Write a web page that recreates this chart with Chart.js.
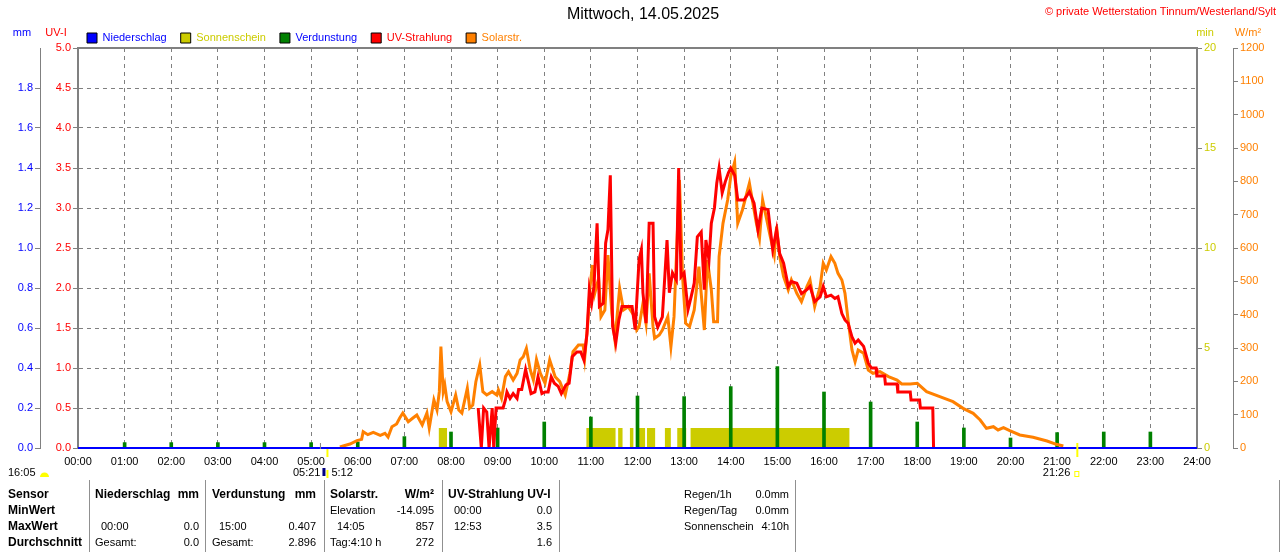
<!DOCTYPE html>
<html lang="de">
<head>
<meta charset="utf-8">
<title>Mittwoch, 14.05.2025</title>
<script src="https://cdn.jsdelivr.net/npm/chart.js@4.4.1/dist/chart.umd.min.js"></script>
<style>
  body { margin: 0; background: #fff; font-family: "Liberation Sans", Arial, sans-serif; }
  #wrap { position: relative; width: 1280px; height: 552px; overflow: hidden; }
  #chart { position: absolute; left: 0; top: 0; }
  .t { position: absolute; font-size: 11px; line-height: 14px; white-space: nowrap; color: #000; }
  .b { font-weight: bold; font-size: 12px; }
  .sep { position: absolute; top: 480px; height: 72px; width: 1px; background: #909090; }
</style>
</head>
<body>
<div id="wrap">
  <canvas id="chart" width="1280" height="552"></canvas>

  <div class="t b" style="left:8px;top:487px">Sensor</div>
  <div class="t b" style="left:8px;top:503px">MinWert</div>
  <div class="t b" style="left:8px;top:519px">MaxWert</div>
  <div class="t b" style="left:8px;top:535px">Durchschnitt</div>

  <div class="t b" style="left:95px;top:487px">Niederschlag</div>
  <div class="t b" style="right:1081px;top:487px">mm</div>
  <div class="t" style="left:101px;top:519px">00:00</div>
  <div class="t" style="right:1081px;top:519px">0.0</div>
  <div class="t" style="left:95px;top:535px">Gesamt:</div>
  <div class="t" style="right:1081px;top:535px">0.0</div>

  <div class="t b" style="left:212px;top:487px">Verdunstung</div>
  <div class="t b" style="right:964px;top:487px">mm</div>
  <div class="t" style="left:219px;top:519px">15:00</div>
  <div class="t" style="right:964px;top:519px">0.407</div>
  <div class="t" style="left:212px;top:535px">Gesamt:</div>
  <div class="t" style="right:964px;top:535px">2.896</div>

  <div class="t b" style="left:330px;top:487px">Solarstr.</div>
  <div class="t b" style="right:846px;top:487px">W/m²</div>
  <div class="t" style="left:330px;top:503px">Elevation</div>
  <div class="t" style="right:846px;top:503px">-14.095</div>
  <div class="t" style="left:337px;top:519px">14:05</div>
  <div class="t" style="right:846px;top:519px">857</div>
  <div class="t" style="left:330px;top:535px">Tag:4:10 h</div>
  <div class="t" style="right:846px;top:535px">272</div>

  <div class="t b" style="left:448px;top:487px">UV-Strahlung UV-I</div>
  <div class="t" style="left:454px;top:503px">00:00</div>
  <div class="t" style="right:728px;top:503px">0.0</div>
  <div class="t" style="left:454px;top:519px">12:53</div>
  <div class="t" style="right:728px;top:519px">3.5</div>
  <div class="t" style="right:728px;top:535px">1.6</div>

  <div class="t" style="left:684px;top:487px">Regen/1h</div>
  <div class="t" style="right:491px;top:487px">0.0mm</div>
  <div class="t" style="left:684px;top:503px">Regen/Tag</div>
  <div class="t" style="right:491px;top:503px">0.0mm</div>
  <div class="t" style="left:684px;top:519px">Sonnenschein</div>
  <div class="t" style="right:491px;top:519px">4:10h</div>

  <div class="sep" style="left:89px"></div>
  <div class="sep" style="left:205px"></div>
  <div class="sep" style="left:324px"></div>
  <div class="sep" style="left:442px"></div>
  <div class="sep" style="left:559px"></div>
  <div class="sep" style="left:795px"></div>
  <div class="sep" style="left:1279px"></div>
</div>

<script>
// ---- data ----
const chartTitle = 'Mittwoch, 14.05.2025';
const stationText = '\u00a9 private Wetterstation Tinnum/Westerland/Sylt';

const rainTimes = ['00:00', '24:00'];
const rainValues = [0.0, 0.0];

// Verdunstung (mm) per hour
const evapTimes = ['01:00','02:00','03:00','04:00','05:00','06:00','07:00','08:00','09:00','10:00','11:00','12:00',
  '13:00','14:00','15:00','16:00','17:00','18:00','19:00','20:00','21:00','22:00','23:00'];
const evapValues = [0.027,0.027,0.027,0.027,0.027,0.03,0.057,0.08,0.10,0.13,0.155,0.26,
  0.257,0.307,0.407,0.28,0.23,0.13,0.10,0.05,0.077,0.08,0.08];

// Sonnenschein periods (1 min per minute of sun)
const sunStart = ['07:44','10:54','11:35','11:50','11:59','12:12','12:35','12:51','13:08'];
const sunEnd   = ['07:55','11:32','11:41','11:55','12:10','12:23','12:43','13:03','16:33'];
const sunMinutes = 1;

// Solarstrahlung W/m²
const solarTimes = ['05:37','05:50','05:59','06:05','06:07','06:13','06:20','06:29','06:35','06:39','06:44','06:50',
  '06:54','06:58','07:05','07:11','07:16','07:23','07:29','07:32','07:38','07:42','07:45','07:47','07:50','07:52',
  '07:55','08:00','08:06','08:10','08:14','08:21','08:24','08:28','08:32','08:37','08:41','08:46','08:53','08:59',
  '09:01','09:05','09:10','09:14','09:20','09:25','09:29','09:33','09:37','09:42','09:46','09:50','09:55','10:01',
  '10:07','10:14','10:20','10:27','10:33','10:37','10:44','10:50','10:52','10:56','10:59','11:02','11:05','11:10',
  '11:13','11:18','11:22','11:27','11:31','11:37','11:42','11:48','11:55','11:59','12:02','12:07','12:11','12:15',
  '12:20','12:22','12:28','12:32','12:39','12:43','12:47','12:54','12:58','13:02','13:07','13:13','13:19','13:26',
  '13:30','13:35','13:38','13:43','13:45','13:50','13:56','14:00','14:05','14:09','14:15','14:24','14:33','14:37',
  '14:41','14:50','14:56','14:59','15:03','15:08','15:14','15:18','15:25','15:31','15:38','15:42','15:48','15:55',
  '15:59','16:03','16:09','16:14','16:18','16:23','16:27','16:31','16:36','16:40','16:44','16:51','16:57','17:03',
  '17:12','17:23','17:34','17:40','17:51','18:00','18:12','18:29','18:46','18:59','19:12','19:21','19:29','19:38',
  '19:44','19:51','19:59','20:12','20:29','20:47','20:59','21:08'];
const solarValues = [3,12,22,26,49,40,47,38,44,33,64,72,
  90,105,79,90,99,69,105,60,144,114,169,304,169,189,
  139,109,159,114,105,179,120,129,199,249,169,159,169,159,
  174,149,214,229,204,224,264,274,299,234,204,266,224,194,
  264,214,199,159,224,289,309,309,269,374,484,549,464,509,
  394,414,579,404,324,479,414,424,399,354,364,434,374,524,
  364,329,339,354,394,304,394,804,514,374,364,414,544,354,
  564,474,379,379,574,674,744,814,857,674,714,794,674,629,
  744,644,579,664,574,514,474,504,464,439,484,504,424,484,
  554,534,574,554,524,504,464,384,294,259,294,284,234,224,
  229,214,204,192,192,194,169,154,139,119,104,84,59,64,
  54,61,52,39,32,21,11,6];

// UV-Index
const uvTimes = ['08:35','08:39','08:42','08:46','08:49','08:53','08:55','08:58','09:07','09:10','09:12','09:16',
  '09:20','09:25','09:27','09:31','09:36','09:40','09:43','09:48','09:52','09:57','10:01','10:05','10:09','10:13',
  '10:18','10:22','10:28','10:32','10:36','10:42','10:47','10:51','10:55','10:58','11:01','11:04','11:08','11:11',
  '11:16','11:19','11:22','11:25','11:28','11:32','11:36','11:40','11:53','11:57','12:02','12:05','12:07','12:11',
  '12:15','12:20','12:22','12:26','12:32','12:38','12:41','12:45','12:50','12:53','12:56','13:00','13:05','13:09',
  '13:13','13:17','13:22','13:26','13:28','13:32','13:35','13:39','13:42','13:45','13:49','13:53','13:57','14:00',
  '14:05','14:09','14:17','14:24','14:30','14:35','14:40','14:48','14:54','14:59','15:03','15:08','15:14','15:18',
  '15:25','15:31','15:38','15:42','15:48','15:55','15:59','16:03','16:09','16:14','16:18','16:23','16:27','16:31',
  '16:36','16:40','16:44','16:51','16:57','17:01','17:07','17:08','17:18','17:19','17:34','17:35','17:51','17:52',
  '18:03','18:04','18:20','18:21'];
const uvValues = [0.5,0,0.5,0.45,0,0.5,0,0.5,0.5,0.6,0.7,0.62,
  0.68,0.62,0.73,0.73,0.98,0.81,0.68,0.7,0.89,0.68,0.7,0.7,0.89,0.81,
  0.77,0.68,0.79,0.81,1.14,1.2,1.2,1.1,1.43,1.98,1.81,2.02,2.81,1.77,
  1.81,2.56,2.73,3.41,1.52,1.31,1.6,1.77,1.77,1.48,2.35,2.48,1.94,1.56,
  2.81,2.81,1.64,1.51,1.64,2.6,1.94,2.19,2.1,3.5,2.14,2.19,1.73,1.89,
  2.06,2.64,2.7,1.98,2.6,2.35,2.81,3.0,3.31,3.5,3.19,3.33,3.44,3.5,
  3.41,3.1,3.1,3.2,3.06,2.73,3.0,2.98,2.48,2.73,2.43,2.31,2.02,2.08,
  2.06,1.93,1.98,2.02,1.83,1.89,2.02,1.89,1.91,1.87,1.89,1.68,1.6,1.56,
  1.39,1.31,1.35,1.27,1.06,1.0,1.0,0.9,0.9,0.8,0.8,0.7,0.7,0.6,
  0.6,0.5,0.5,0];

const dawnTime = '05:12';
const sunriseTime = '05:21';
const sunsetTime = '21:26';
const dayLength = '16:05';

const legendText = ['#0000ff', '#cccc00', '#0000ff', '#ff0000', '#ff8000'];

// ---- helpers ----
function toH(s) {
  const p = s.split(':');
  return Number(p[0]) + Number(p[1]) / 60;
}
function pts(times, values) {
  return times.map((t, i) => ({x: toH(t), y: values[i]}));
}

const sunPts = [];
sunStart.forEach((s, i) => {
  sunPts.push({x: toH(s), y: sunMinutes});
  sunPts.push({x: toH(sunEnd[i]), y: sunMinutes});
  sunPts.push({x: toH(sunEnd[i]), y: null});
});

Chart.defaults.font.family = '"Liberation Sans", Arial, sans-serif';
Chart.defaults.font.size = 11;
Chart.defaults.color = '#000';

// move legend so the first box sits a little left of the plot edge
const legendShift = {
  id: 'legendShift',
  afterLayout(chart) {
    chart.legend.left = chart.chartArea.left - 5;
  }
};

// title, unit labels, plot frame top and the sun markers under the time axis
const decor = {
  id: 'decor',
  afterDraw(chart) {
    const ctx = chart.ctx;
    const a = chart.chartArea;
    const x = chart.scales.x;
    ctx.save();
    ctx.strokeStyle = '#808080';
    ctx.lineWidth = 2;
    ctx.beginPath();
    ctx.moveTo(a.left - 1, a.top);
    ctx.lineTo(a.right + 1, a.top);
    ctx.stroke();

    ctx.textBaseline = 'middle';
    ctx.textAlign = 'center';
    ctx.font = '16px "Liberation Sans", Arial, sans-serif';
    ctx.fillStyle = '#000';
    ctx.fillText(chartTitle, 643, 15);

    ctx.font = '11px "Liberation Sans", Arial, sans-serif';
    ctx.textAlign = 'right';
    ctx.fillStyle = '#ff0000';
    ctx.fillText(stationText, 1276, 12);

    ctx.textAlign = 'center';
    ctx.fillStyle = '#0000ff'; ctx.fillText('mm', 22, 33);
    ctx.fillStyle = '#ff0000'; ctx.fillText('UV-I', 56, 33);
    ctx.fillStyle = '#cccc00'; ctx.fillText('min', 1205, 33);
    ctx.fillStyle = '#ff8000'; ctx.fillText('W/m²', 1248, 33);

    const xd = x.getPixelForValue(toH(dawnTime));
    const xr = x.getPixelForValue(toH(sunriseTime));
    const xs = x.getPixelForValue(toH(sunsetTime));

    ctx.lineWidth = 1;
    ctx.strokeStyle = '#808080';
    ctx.beginPath(); ctx.moveTo(xd, 443); ctx.lineTo(xd, 449); ctx.stroke();
    ctx.lineWidth = 2;
    ctx.strokeStyle = '#ffff00';
    ctx.beginPath(); ctx.moveTo(xr, 449); ctx.lineTo(xr, 457); ctx.stroke();
    ctx.beginPath(); ctx.moveTo(xs, 443); ctx.lineTo(xs, 457); ctx.stroke();

    ctx.fillStyle = '#000';
    ctx.textAlign = 'left';
    ctx.fillText(dayLength, 8, 473);
    ctx.fillText(dawnTime.replace(/^0/, ''), xr + 4, 473);
    ctx.textAlign = 'right';
    ctx.fillText(sunriseTime, xd, 473);
    ctx.fillText(sunsetTime, xs - 7, 473);

    ctx.fillStyle = '#000080';
    ctx.fillRect(xd + 2, 468, 3, 8);
    ctx.fillStyle = '#ffff00';
    ctx.fillRect(xr - 1, 470, 2, 8);
    ctx.beginPath(); ctx.arc(44.5, 477, 4.5, Math.PI, 0); ctx.fill();
    ctx.strokeStyle = '#ffff00';
    ctx.lineWidth = 1;
    ctx.strokeRect(xs - 2.5, 471.5, 4, 5);
    ctx.restore();
  }
};

const ctx = document.getElementById('chart').getContext('2d');
new Chart(ctx, {
  type: 'line',
  data: {
    datasets: [{
      label: 'Niederschlag',
      data: pts(rainTimes, rainValues),
      yAxisID: 'ymm',
      borderColor: '#0000ff',
      borderWidth: 2,
      pointRadius: 0,
      clip: false,
      order: 0
    }, {
      label: 'Sonnenschein',
      data: sunPts,
      yAxisID: 'ymin',
      borderColor: 'rgba(0,0,0,0)',
      borderWidth: 0,
      backgroundColor: '#cccc00',
      fill: 'origin',
      pointRadius: 0,
      order: 4
    }, {
      label: 'Verdunstung',
      type: 'bar',
      data: pts(evapTimes, evapValues),
      yAxisID: 'ymm',
      backgroundColor: '#008000',
      barThickness: 3,
      order: 3
    }, {
      label: 'UV-Strahlung',
      data: pts(uvTimes, uvValues),
      yAxisID: 'yuv',
      borderColor: '#ff0000',
      borderWidth: 3,
      pointRadius: 0,
      order: 1
    }, {
      label: 'Solarstr.',
      data: pts(solarTimes, solarValues),
      yAxisID: 'ysol',
      borderColor: '#ff8000',
      borderWidth: 3,
      pointRadius: 0,
      order: 2
    }]
  },
  options: {
    responsive: false,
    animation: false,
    events: [],
    layout: {padding: {top: 18.5, left: 0, right: 0, bottom: 84}},
    plugins: {
      tooltip: {enabled: false},
      title: {display: false},
      legend: {
        position: 'top',
        align: 'start',
        fullSize: false,
        maxHeight: 29.5,
        labels: {
          boxWidth: 10,
          boxHeight: 10,
          padding: 14,
          font: {size: 11},
          sort: (a, b) => a.datasetIndex - b.datasetIndex,
          generateLabels: function(chart) {
            const items = Chart.defaults.plugins.legend.labels.generateLabels(chart);
            items.forEach(it => {
              const ds = chart.data.datasets[it.datasetIndex];
              it.fillStyle = ds.type === 'bar' || ds.fill ? ds.backgroundColor : ds.borderColor;
              it.strokeStyle = '#000';
              it.lineWidth = 1;
              it.lineDash = [];
              it.fontColor = legendText[it.datasetIndex];
            });
            return items;
          }
        }
      }
    },
    scales: {
      x: {
        type: 'linear',
        position: 'bottom',
        min: 0,
        max: 24,
        offset: false,
        grid: {color: '#808080', drawTicks: false, offset: false},
        border: {color: '#808080', width: 2, dash: [4, 4]},
        ticks: {
          stepSize: 1,
          maxTicksLimit: 30,
          autoSkip: false,
          maxRotation: 0,
          padding: 7,
          color: '#000',
          callback: v => String(v).padStart(2, '0') + ':00'
        },
        afterFit: s => { s.height = 20; }
      },
      ymm: {
        position: 'left',
        weight: 1,
        min: 0,
        max: 2,
        grid: {drawOnChartArea: false, color: '#808080', tickLength: 5},
        border: {color: '#808080', width: 1},
        ticks: {
          stepSize: 0.2,
          maxTicksLimit: 30,
          padding: 2,
          color: '#0000ff',
          callback: v => v > 1.99 ? null : v.toFixed(1)
        },
        afterFit: s => { s.width = 40; }
      },
      yuv: {
        position: 'left',
        weight: 0,
        min: 0,
        max: 5,
        grid: {color: '#808080', tickLength: 5},
        border: {color: '#808080', width: 2, dash: [4, 4]},
        ticks: {stepSize: 0.5, maxTicksLimit: 30, padding: 2, color: '#ff0000', callback: v => v.toFixed(1)},
        afterFit: s => { s.width = 38; }
      },
      ymin: {
        position: 'right',
        weight: 0,
        min: 0,
        max: 20,
        grid: {drawOnChartArea: false, color: '#808080', tickLength: 5},
        border: {color: '#808080', width: 2},
        ticks: {stepSize: 5, maxTicksLimit: 30, padding: 2, color: '#cccc00', callback: v => String(v)},
        afterFit: s => { s.width = 36; }
      },
      ysol: {
        position: 'right',
        weight: 1,
        min: 0,
        max: 1200,
        grid: {drawOnChartArea: false, color: '#808080', tickLength: 5},
        border: {color: '#808080', width: 1},
        ticks: {stepSize: 100, maxTicksLimit: 30, padding: 2, color: '#ff8000', callback: v => String(v)},
        afterFit: s => { s.width = 47; }
      }
    }
  },
  plugins: [legendShift, decor]
});
</script>
</body>
</html>
